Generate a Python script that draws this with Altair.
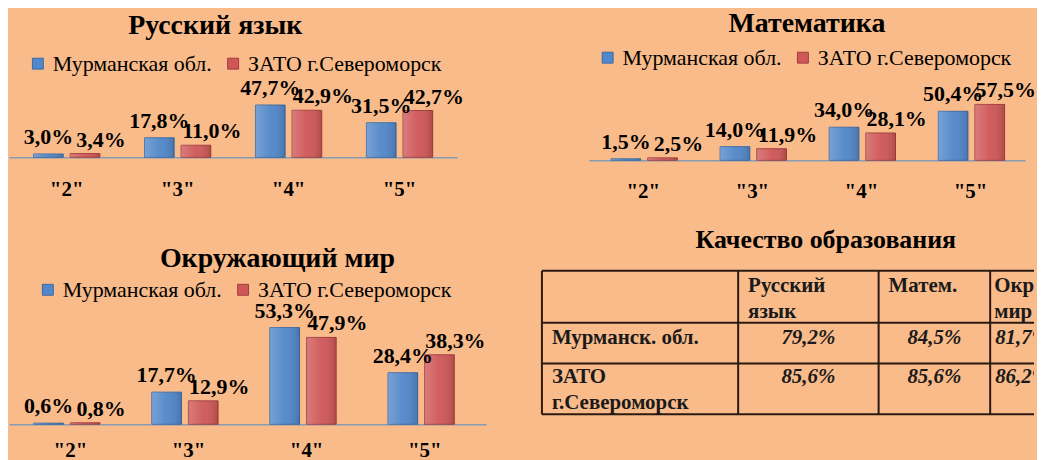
import altair as alt
import pandas as pd

# ---------------- data ----------------
grades = ['"2"', '"3"', '"4"', '"5"']
series = ["Мурманская обл.", "ЗАТО г.Североморск"]

rus_murm = [3.0, 17.8, 47.7, 31.5]
rus_zato = [3.4, 11.0, 42.9, 42.7]
mat_murm = [1.5, 14.0, 34.0, 50.4]
mat_zato = [2.5, 11.9, 28.1, 57.5]
okr_murm = [0.6, 17.7, 53.3, 28.4]
okr_zato = [0.8, 12.9, 47.9, 38.3]

table_cols = ["Русский\nязык", "Матем.", "Окружающий\nмир"]
table_rows = ["Мурманск. обл.", "ЗАТО\nг.Североморск"]
quality_murm = [79.2, 84.5, 81.7]
quality_zato = [85.6, 85.6, 86.2]

# ---------------- style ----------------
SERIF = "Liberation Serif"
BG = "#f9bb8a"
BLUE = "#5287c9"
RED = "#cf5757"
BLUE_D = "#3d6aa3"
RED_D = "#a33d3d"
AXIS_C = "#8a9cb4"


def pct(v):
    return f"{v:.1f}".replace(".", ",") + "%"


def bar_panel(title, murm, zato, width, height, ymax, po, off_pi, off_po,
              title_dx, title_off, leg_x, leg_y, lab_pad):
    df = pd.DataFrame({
        "grade": grades * 2,
        "series": [series[0]] * len(grades) + [series[1]] * len(grades),
        "value": murm + zato,
    })
    df["label"] = [pct(v) for v in df["value"]]

    x = alt.X("grade:N", sort=grades,
              scale=alt.Scale(paddingInner=0, paddingOuter=po),
              axis=alt.Axis(title=None, labelAngle=0, ticks=False,
                            domainColor=AXIS_C, domainWidth=1.5,
                            labelFont=SERIF, labelFontSize=21,
                            labelFontWeight="bold", labelColor="black",
                            labelPadding=lab_pad))
    xo = alt.XOffset("series:N", sort=series,
                     scale=alt.Scale(domain=series, paddingInner=off_pi,
                                     paddingOuter=off_po))
    y = alt.Y("value:Q", scale=alt.Scale(domain=[0, ymax], nice=False,
                                         zero=True), axis=None)
    base = alt.Chart(df).encode(x=x, xOffset=xo, y=y)

    bars = base.mark_bar(strokeWidth=1).encode(
        color=alt.Color("series:N",
                        scale=alt.Scale(domain=series, range=[BLUE, RED]),
                        legend=alt.Legend(
                            orient="none", legendX=leg_x, legendY=leg_y,
                            direction="horizontal", title=None,
                            symbolType="square", symbolSize=120,
                            symbolStrokeWidth=1, symbolStrokeColor="#44556a",
                            labelFont=SERIF, labelFontSize=22,
                            labelColor="black", labelOffset=4,
                            labelLimit=400,
                            columnPadding=10, padding=0)),
        stroke=alt.Stroke("series:N",
                          scale=alt.Scale(domain=series,
                                          range=[BLUE_D, RED_D]),
                          legend=None),
    )
    shade = base.mark_bar(fill={
        "gradient": "linear", "x1": 0, "y1": 0, "x2": 1, "y2": 0,
        "stops": [
            {"offset": 0, "color": "rgba(255,255,255,0.22)"},
            {"offset": 0.5, "color": "rgba(255,255,255,0.04)"},
            {"offset": 1, "color": "rgba(0,0,0,0.14)"},
        ]})
    lab_style = dict(font=SERIF, fontSize=22, fontWeight="bold",
                     color="black", baseline="alphabetic")
    lab_m = base.transform_filter(alt.datum.series == series[0]).mark_text(
        dy=-10, **lab_style).encode(text="label:N")
    lab_z = base.transform_filter(alt.datum.series == series[1]).mark_text(
        dx=16, dy=-7, **lab_style).encode(text="label:N")

    return alt.layer(bars, shade, lab_m, lab_z).properties(
        width=width, height=height,
        title=alt.TitleParams(title, font=SERIF, fontSize=28,
                              fontWeight="bold", color="black",
                              anchor="middle", dx=title_dx,
                              offset=title_off))


rus = bar_panel("Русский язык", rus_murm, rus_zato, 450, 77, 70,
                0.02, 0.19, 0.61, -18, 13, 18, -28, 21)
mat = bar_panel("Математика", mat_murm, mat_zato, 438, 80, 82,
                0.0, 0.19, 0.61, 0, 9, 8, -34, 20)
okr = bar_panel("Окружающий мир", okr_murm, okr_zato, 479, 154, 84.6,
                0.02, 0.225, 0.59, 30, -2, 28, 8, 15)

# ---------------- table ----------------
TABLE_W = 494
TABLE_H = 144
col_edges = [0, 197, 338, 450, 562]
row_edges = [0, 52, 93, 144]
row_base = [73, 113]
head_base = 21

cells = []
for i, name in enumerate(table_cols):
    pad = 10 if i < 2 else 4
    cells.append({"x": col_edges[i + 1] + pad, "y": head_base,
                  "text": name, "kind": "head"})
for r, name in enumerate(table_rows):
    cells.append({"x": 10, "y": row_base[r], "text": name, "kind": "head"})
for r, vals in enumerate([quality_murm, quality_zato]):
    for i, v in enumerate(vals):
        if i < 2:
            cx = (col_edges[i + 1] + col_edges[i + 2]) / 2
            cells.append({"x": cx, "y": row_base[r], "text": pct(v),
                          "kind": "val"})
        else:
            cells.append({"x": col_edges[i + 1] + 5, "y": row_base[r],
                          "text": pct(v), "kind": "val_left"})
cells_df = pd.DataFrame(cells)

lines = []
for yv in row_edges:
    lines.append({"x": 0, "x2": min(col_edges[-1], TABLE_W), "y": yv, "y2": yv})
for xv in col_edges:
    if xv <= TABLE_W:
        lines.append({"x": xv, "x2": xv, "y": 0, "y2": TABLE_H})
lines_df = pd.DataFrame(lines)

tx = alt.Scale(domain=[0, TABLE_W], nice=False, zero=False)
ty = alt.Scale(domain=[0, TABLE_H], nice=False, zero=False, reverse=True)

grid = alt.Chart(lines_df).mark_rule(color="#2b1a10", strokeWidth=2).encode(
    x=alt.X("x:Q", scale=tx, axis=None), x2="x2:Q",
    y=alt.Y("y:Q", scale=ty, axis=None), y2="y2:Q")

txt_common = dict(font=SERIF, fontSize=21, fontWeight="bold", color="#1a1a1a",
                  baseline="alphabetic", lineBreak="\n", lineHeight=26,
                  clip=True)
heads = alt.Chart(cells_df).transform_filter(alt.datum.kind == "head").mark_text(
    align="left", **txt_common).encode(
    x=alt.X("x:Q", scale=tx, axis=None), y=alt.Y("y:Q", scale=ty, axis=None),
    text="text:N")
vals = alt.Chart(cells_df).transform_filter(alt.datum.kind == "val").mark_text(
    align="center", fontStyle="italic", **txt_common).encode(
    x=alt.X("x:Q", scale=tx, axis=None), y=alt.Y("y:Q", scale=ty, axis=None),
    text="text:N")
vals_l = alt.Chart(cells_df).transform_filter(alt.datum.kind == "val_left").mark_text(
    align="left", fontStyle="italic", **txt_common).encode(
    x=alt.X("x:Q", scale=tx, axis=None), y=alt.Y("y:Q", scale=ty, axis=None),
    text="text:N")

table = alt.layer(grid, heads, vals, vals_l).properties(
    width=TABLE_W, height=TABLE_H,
    title=alt.TitleParams("Качество образования", font=SERIF, fontSize=26,
                          fontWeight="bold", color="black", anchor="middle",
                          dx=38, offset=17))

row1 = alt.hconcat(rus, mat, spacing=132, bounds="flush").resolve_scale(
    color="independent", stroke="independent")
row2 = alt.hconcat(okr, table, spacing=56, bounds="flush").resolve_scale(
    color="independent", stroke="independent")
chart = alt.vconcat(row1, row2, spacing=191, bounds="flush").properties(
    padding=0, background=BG
).configure_view(stroke="transparent").resolve_scale(
    color="independent", stroke="independent")

chart.save("out.html", embed_options={"renderer": "svg", "actions": False})
